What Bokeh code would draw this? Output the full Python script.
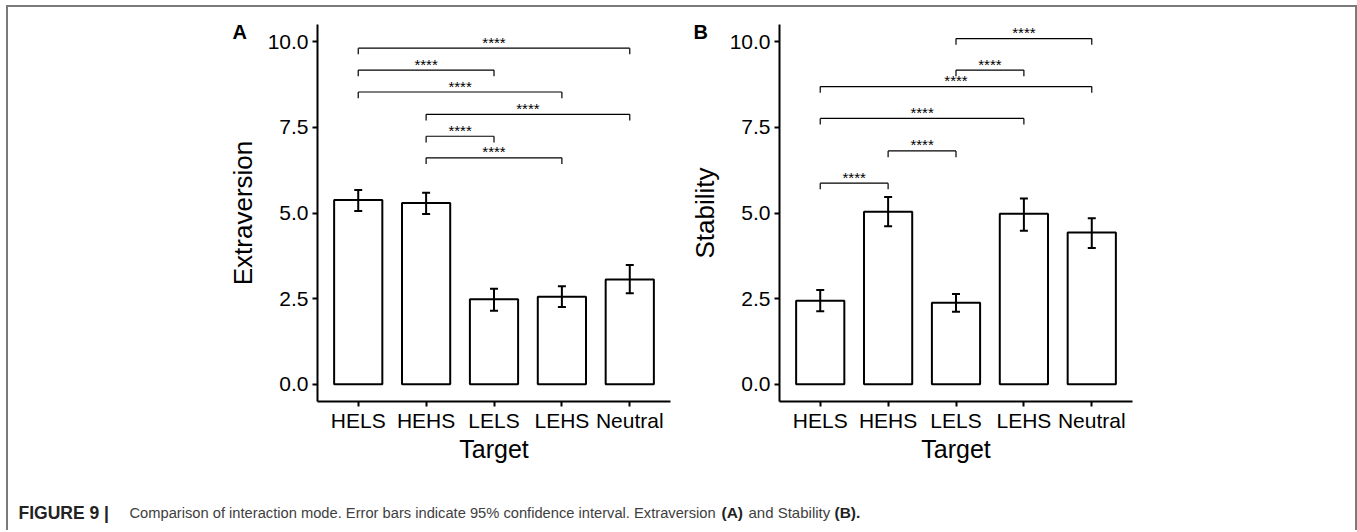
from bokeh.plotting import figure
from bokeh.models import (ColumnDataSource, Whisker, TeeHead, FactorRange, Range1d,
                          FixedTicker, NumeralTickFormatter)
from bokeh.layouts import row, column
from bokeh.embed import file_html
from bokeh.resources import INLINE
from bokeh.core.properties import value

# ---------------- data ----------------
targets = ["HELS", "HEHS", "LELS", "LEHS", "Neutral"]

extra_mean = [5.38, 5.29, 2.48, 2.56, 3.06]
extra_lower = [5.06, 4.97, 2.15, 2.26, 2.66]
extra_upper = [5.67, 5.59, 2.79, 2.86, 3.48]

stab_mean = [2.44, 5.04, 2.38, 4.98, 4.43]
stab_lower = [2.13, 4.61, 2.12, 4.48, 3.98]
stab_upper = [2.75, 5.47, 2.64, 5.42, 4.85]

extra_cmp_from = ["HELS", "HELS", "HELS", "HEHS", "HEHS", "HEHS"]
extra_cmp_to = ["Neutral", "LELS", "LEHS", "Neutral", "LELS", "LEHS"]
extra_cmp_y = [9.81, 9.17, 8.53, 7.88, 7.24, 6.61]

stab_cmp_from = ["LELS", "LELS", "HELS", "HELS", "HEHS", "HELS"]
stab_cmp_to = ["Neutral", "LEHS", "Neutral", "LEHS", "LELS", "HEHS"]
stab_cmp_y = [10.09, 9.17, 8.69, 7.76, 6.81, 5.87]

sig_label = "****"
y_ticks = [0, 2.5, 5, 7.5, 10]

caption_parts = ["FIGURE 9 |",
                 "Comparison of interaction mode. Error bars indicate 95% confidence interval. Extraversion",
                 "(A)", "and Stability", "(B)."]
caption_bold = [True, False, True, False, True]
caption_x = [10, 121, 713, 740, 826]
caption_size = ["17.5px", "14.7px", "15.5px", "15px", "15.5px"]

FONT = "Liberation Sans"
TIP = 0.18


def make_panel(means, lows, ups, cfrom, cto, cy, ylabel, width, mbl, mbr, letter, letter_dx):
    p = figure(x_range=FactorRange(*targets, range_padding=0.1, range_padding_units="absolute"),
               y_range=Range1d(-0.5, 10.5), title=letter,
               width=width, height=463, output_backend="svg", toolbar_location=None,
               min_border_left=mbl, min_border_right=mbr, min_border_top=17, min_border_bottom=69)
    p.outline_line_color = None
    p.grid.visible = False
    p.background_fill_color = "white"
    p.border_fill_color = "white"

    p.title.text_font = FONT
    p.title.text_font_style = "bold"
    p.title.text_font_size = "20px"
    p.title.text_color = "black"
    p.title.align = "left"
    p.title.vertical_align = "bottom"
    p.title.offset = letter_dx
    p.title.standoff = -36

    src = ColumnDataSource(dict(x=targets, top=means, lower=lows, upper=ups))
    p.vbar(x="x", top="top", width=0.71, source=src, fill_color="white",
           line_color="black", line_width=2)
    w = Whisker(base="x", upper="upper", lower="lower", source=src, dimension="height",
                line_color="black", line_width=2, level="overlay",
                upper_head=TeeHead(size=8, line_width=2, line_color="black"),
                lower_head=TeeHead(size=8, line_width=2, line_color="black"))
    p.add_layout(w)

    # significance brackets
    p.segment(x0=cfrom, y0=cy, x1=cto, y1=cy, line_color="black", line_width=1.2)
    p.segment(x0=cfrom, y0=cy, x1=cfrom, y1=[v - TIP for v in cy], line_color="black", line_width=1.2)
    p.segment(x0=cto, y0=cy, x1=cto, y1=[v - TIP for v in cy], line_color="black", line_width=1.2)
    mids = [(targets.index(a) + targets.index(b)) / 2 + 0.5 for a, b in zip(cfrom, cto)]
    p.text(x=mids, y=cy, text=[sig_label] * len(cy), text_align="center",
           text_baseline="alphabetic", y_offset=-6, text_font_size="15px",
           text_font=value(FONT), text_color="black")

    p.xaxis.axis_label = "Target"
    p.yaxis.axis_label = ylabel
    for ax in p.axis:
        ax.axis_line_width = 2
        ax.axis_line_color = "black"
        ax.major_tick_line_width = 2
        ax.major_tick_line_color = "black"
        ax.major_tick_out = 5
        ax.major_tick_in = 0
        ax.minor_tick_line_color = None
        ax.major_label_text_font_size = "21px"
        ax.major_label_text_font = FONT
        ax.major_label_text_color = "black"
        ax.axis_label_text_font_size = "25px"
        ax.axis_label_text_font = FONT
        ax.axis_label_text_font_style = "normal"
        ax.axis_label_text_color = "black"
    p.yaxis.axis_label_text_font_size = "26px"
    p.yaxis.major_label_standoff = 4
    p.yaxis.axis_label_standoff = 7
    p.xaxis.major_label_standoff = 2
    p.xaxis.axis_label_standoff = 0
    p.yaxis.ticker = FixedTicker(ticks=y_ticks)
    p.yaxis.formatter = NumeralTickFormatter(format="0.0")
    return p


pA = make_panel(extra_mean, extra_lower, extra_upper, extra_cmp_from, extra_cmp_to, extra_cmp_y,
                "Extraversion", 672, 309, 10, "A", -85)
pB = make_panel(stab_mean, stab_lower, stab_upper, stab_cmp_from, stab_cmp_to, stab_cmp_y,
                "Stability", 675, 99, 223, "B", -86)

cap = figure(width=1347, height=60, x_range=Range1d(0, 1347), y_range=Range1d(0, 60),
             x_axis_type=None, y_axis_type=None, min_border=0, output_backend="svg",
             toolbar_location=None)
cap.outline_line_color = None
cap.grid.visible = False
for txt, b, xx, fs in zip(caption_parts, caption_bold, caption_x, caption_size):
    cap.text(x=[xx], y=[18], text=[txt], text_align="left", text_baseline="alphabetic",
             text_font=value(FONT), text_font_size=fs,
             text_font_style="bold" if b else "normal",
             text_color="#222222" if b else "#404040")

layout = column(row(pA, pB), cap,
                styles={"margin-left": "6px", "margin-top": "5px",
                        "border-left": "2px solid #7a7a7a", "border-top": "2px solid #7a7a7a",
                        "border-right": "2px solid #7a7a7a"})

open("out.html", "w").write(file_html(layout, INLINE))
